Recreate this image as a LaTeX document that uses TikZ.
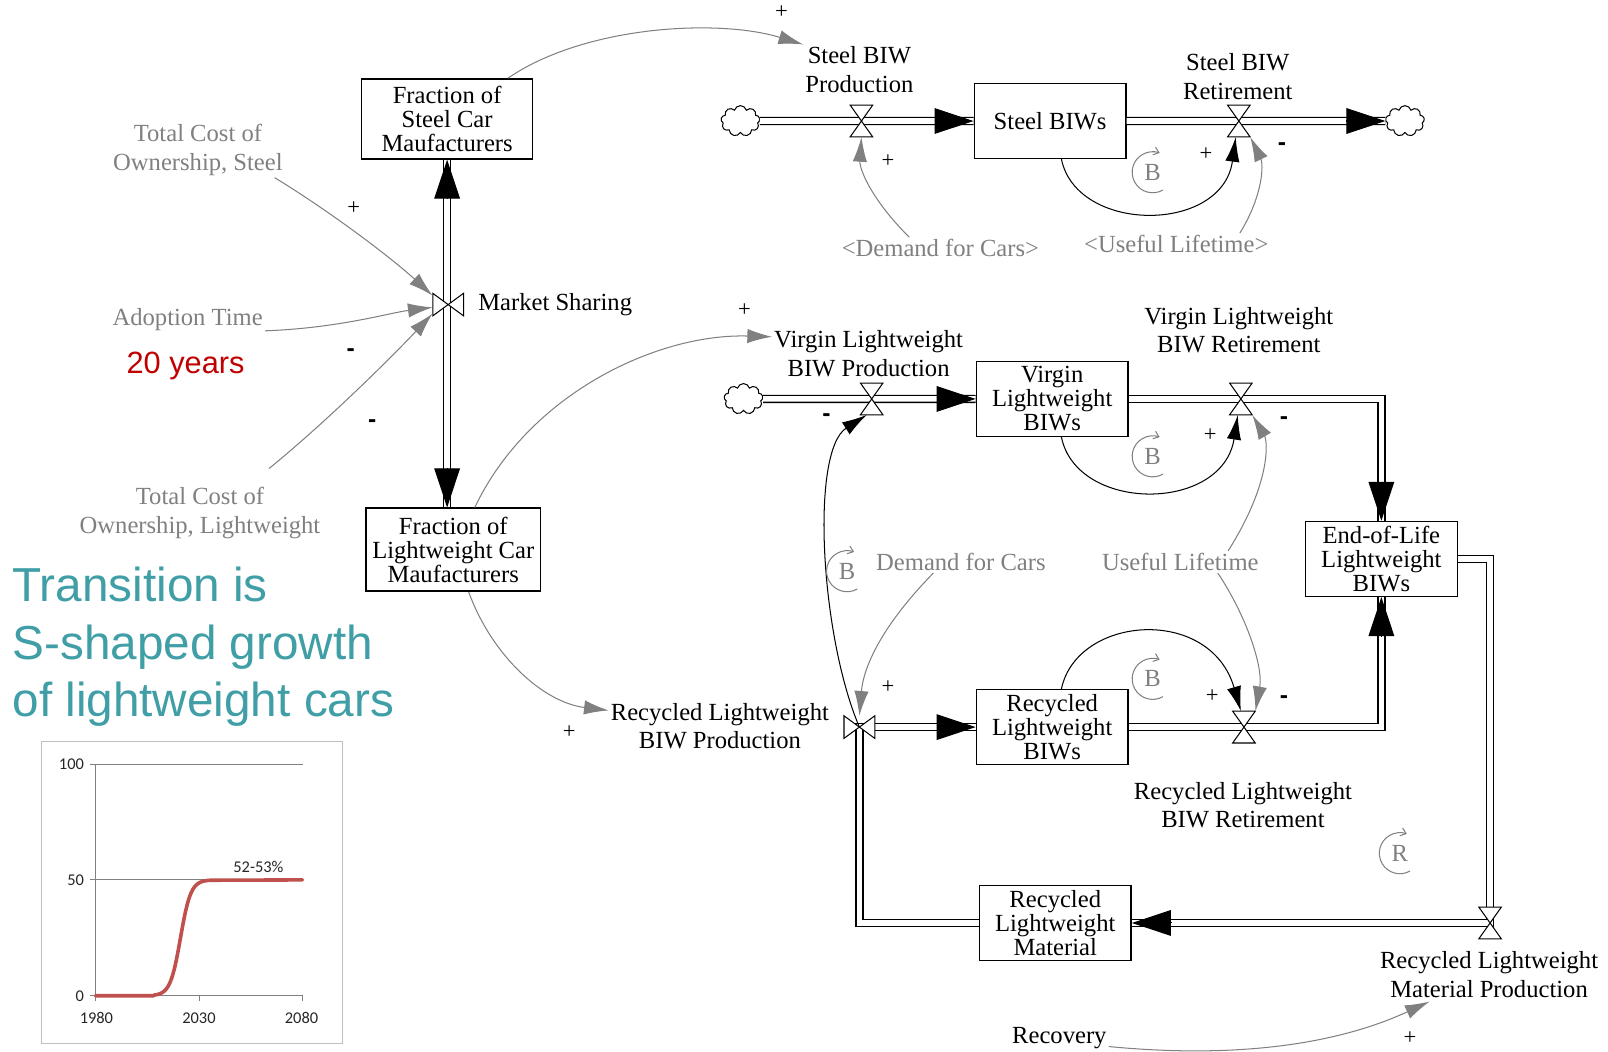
\documentclass[tikz,border=0pt]{standalone}
\usepackage{fontspec}
\setmainfont{Liberation Serif}
\newfontfamily\arialfont{Liberation Sans}
\newfontfamily\calibrifont{Carlito}
\usetikzlibrary{arrows.meta,positioning,calc,shapes.symbols}

\definecolor{linkgray}{RGB}{128,128,128}
\definecolor{slidecyan}{RGB}{64,158,166}
\definecolor{yearsred}{RGB}{192,0,0}
\definecolor{curvered}{RGB}{192,80,77}

\tikzset{
  valve/.pic={
    \draw[line width=1pt,fill=white] (-11,-15.5) -- (11,-15.5) -- (-11,15.5) -- (11,15.5) -- cycle;
    \node[inner sep=0pt,minimum width=22pt,minimum height=31pt] (-n) at (0,0) {};
  },
  sidevalve/.pic={
    \draw[line width=1pt,fill=white] (-15,-11) -- (-15,11) -- (15,-11) -- (15,11) -- cycle;
    \node[inner sep=0pt,minimum width=30pt,minimum height=22pt] (-n) at (0,0) {};
  }
}

\begin{document}
\begin{tikzpicture}[x=1pt,y=-1pt,>={Latex[length=24pt,width=14pt]},
			font=\fontsize{24}{26}\selectfont]
			\tikzstyle{stock}=[draw,line width=1.4pt,align=center,inner sep=2pt,minimum width=148pt,minimum height=73pt,font=\fontsize{24}{23.5}\selectfont]
			\tikzstyle{rate}=[align=center,inner sep=2pt,font=\fontsize{24}{28}\selectfont]
			\tikzstyle{aux}=[rate,text=linkgray]
			\tikzstyle{pipe}=[line width=1.3pt,double=white,double distance=5.5pt]
			\tikzstyle{flowhead}=[-{Triangle[length=38pt,width=25pt]},line width=1pt]
			\tikzstyle{infolink}=[->,draw=linkgray,line width=1pt]
			\tikzstyle{stocklink}=[->,draw=black,line width=1pt]
			\tikzstyle{polplus}=[inner sep=0pt,font=\fontsize{22}{22}\selectfont]
			\tikzstyle{polminus}=[inner sep=0pt,font=\arialfont\bfseries\fontsize{24}{24}\selectfont]
			\tikzstyle{loopid}=[inner sep=0pt,text=linkgray]
			\tikzstyle{loopar}=[draw=linkgray,line width=1pt,-{Straight Barb[length=5pt,width=8pt]}]
			\tikzstyle{cloudy}=[cloud,cloud puffs=9,cloud ignores aspect,draw,fill=white,line width=1pt,minimum width=38pt,minimum height=30pt,inner sep=0pt]
			\tikzstyle{chartlbl}=[inner sep=0pt,font=\calibrifont\fontsize{16}{16}\selectfont,text=black!85]
			
			\useasboundingbox (0,0) rectangle (1568,1025);
			\fill[white] (0,0) rectangle (1568,1025);
			
			% stocks
			\node[stock,minimum width=167pt,minimum height=78pt] (fsteel) at (436,116) {Fraction of\\Steel Car\\Maufacturers};
			
			\node[stock,minimum width=170pt,minimum height=81pt] (flw) at (442,536) {Fraction of\\Lightweight Car\\Maufacturers};
			
			\node[stock] (sBIW) at (1024,118) {Steel BIWs};
			
			\node[stock] (vBIW) at (1026,389) {Virgin\\Lightweight\\BIWs};
			
			\node[stock] (eol) at (1347,545) {End-of-Life\\Lightweight\\BIWs};
			
			\node[stock] (rBIW) at (1026,709) {Recycled\\Lightweight\\BIWs};
			
			\node[stock] (rMat) at (1029,900) {Recycled\\Lightweight\\Material};
			
			% sources and sinks
			\node[cloudy] (c1) at (722,118) {};
			
			\node[cloudy] (c2) at (1370,118) {};
			
			\node[cloudy] (c3) at (725,389) {};
			
			% valve places
			\coordinate (pSP) at (840,118);
			\coordinate (pSR) at (1208,118);
			\coordinate (pMS) at (437,297);
			\coordinate (pVP) at (850,389);
			\coordinate (pVR) at (1210,389);
			\coordinate (pRP) at (838,709);
			\coordinate (pRR) at (1213,709);
			\coordinate (pRM) at (1453,900);
			
			% flows
			\draw[pipe] (c1) -- (sBIW.west);
			\draw[pipe] (sBIW.east) -- (c2);
			\draw[pipe] (fsteel.south) -- (fsteel.south |- flw.north);
			\draw[pipe] (c3) -- (vBIW.west);
			\draw[pipe] (vBIW.east) -| (eol.north);
			\draw[pipe] (rBIW.east) -| (eol.south);
			\draw[pipe] (eol.east) -| (pRM) -- (rMat.east);
			\draw[pipe] (rMat.west) -| (pRP) -- (rBIW.west);
			
			\draw[flowhead] ($(sBIW.west)+(-38,0)$) -- (sBIW.west);
			\draw[flowhead] ($(c2.west)+(-38,0)$) -- (c2.west);
			\draw[flowhead] ($(fsteel.south)+(0,38)$) -- (fsteel.south);
			\draw[flowhead] ($(fsteel.south |- flw.north)+(0,-38)$) -- (fsteel.south |- flw.north);
			\draw[flowhead] ($(vBIW.west)+(-38,0)$) -- (vBIW.west);
			\draw[flowhead] ($(eol.north)+(0,-38)$) -- (eol.north);
			\draw[flowhead] ($(eol.south)+(0,38)$) -- (eol.south);
			\draw[flowhead] ($(rBIW.west)+(-38,0)$) -- (rBIW.west);
			\draw[flowhead] ($(rMat.east)+(38,0)$) -- (rMat.east);
			
			% valves
			\pic (vSP) at (pSP) {valve};
			\pic (vSR) at (pSR) {valve};
			\pic (vMS) at (pMS) {sidevalve};
			\pic (vVP) at (pVP) {valve};
			\pic (vVR) at (pVR) {valve};
			\pic (vRP) at (pRP) {sidevalve};
			\pic (vRR) at (pRR) {valve};
			\pic (vRM) at (pRM) {valve};
			
			% rate names
			\node[rate] (lSP) at (838,68) {Steel BIW\\Production};
			
			\node[rate] (lSR) at (1207,75) {Steel BIW\\Retirement};
			
			\node[rate,right=12pt of vMS-n] (lMS) {Market Sharing};
			
			\node[rate] (lVP) at (847,345) {Virgin Lightweight\\BIW Production};
			
			\node[rate] (lVR) at (1208,322) {Virgin Lightweight\\BIW Retirement};
			
			\node[rate] (lRP) at (702,708) {Recycled Lightweight\\BIW Production};
			
			\node[rate] (lRR) at (1212,785) {Recycled Lightweight\\BIW Retirement};
			
			\node[rate] (lRM) at (1452,950) {Recycled Lightweight\\Material Production};
			
			\node[rate] (recov) at (1033,1012) {Recovery};
			
			% auxiliaries
			\node[aux] (tcs) at (193,146) {Total Cost of\\Ownership, Steel};
			
			\node[aux] (adopt) at (183,312) {Adoption Time};
			
			\node[aux] (tcl) at (195,500) {Total Cost of\\Ownership, Lightweight};
			
			\node[aux] (dfc1) at (917,242) {<Demand for Cars>};
			
			\node[aux] (ul1) at (1147,238) {<Useful Lifetime>};
			
			\node[aux] (dfc2) at (937,548) {Demand for Cars};
			
			\node[aux] (ul2) at (1151,548) {Useful Lifetime};
			
			\node[text=yearsred,font=\arialfont\fontsize{30}{30}\selectfont] (adoptval) at (181,357) {20 years};
			
			% links
			\draw[infolink] ($(fsteel.north east)+(-25,0)$) .. controls (570,25) and (700,18) .. (lSP.north west);
			\draw[infolink] (tcs.-20) .. controls (320,205) and (380,250) .. (vMS-n.150);
			\draw[infolink] (adopt.-8) .. controls (330,320) and (380,305) .. (vMS-n.190);
			\draw[infolink] ($(tcl.22)+(0,-16)$) .. controls (320,410) and (385,345) .. (vMS-n.210);
			\draw[infolink] ($(flw.north)+(21,0)$) .. controls (515,385) and (640,325) .. (lVP.170);
			\draw[infolink] ($(flw.south)+(15,0)$) .. controls (480,640) and (530,685) .. (lRP.172);
			\draw[infolink] ($(dfc1.north west)+(68,0)$) .. controls (850,195) and (838,165) .. (vSP-n.south);
			\draw[infolink] ($(ul1.north east)+(-30,0)$) .. controls (1232,190) and (1232,160) .. (vSR-n.south east);
			\draw[stocklink] ($(sBIW.south)+(11,0)$) .. controls (1050,228) and (1192,228) .. ($(vSR-n.south)+(-3,0)$);
			\draw[stocklink] ($(vBIW.south)+(9,0)$) .. controls (1050,500) and (1192,500) .. ($(vVR-n.south)+(-3,0)$);
			\draw[infolink] ($(ul2.north east)+(-32,0)$) .. controls (1240,470) and (1236,430) .. (vVR-n.south east);
			\draw[infolink] ($(dfc2.south west)+(58,0)$) .. controls (860,610) and (842,650) .. (vRP-n.north);
			\draw[stocklink] (vRP-n.center) .. controls (800,620) and (790,440) .. ($(vVP-n.south)+(-5,0)$);
			\draw[stocklink] ($(rBIW.north)+(9,0)$) .. controls (1050,600) and (1180,590) .. ($(vRR-n.north)+(-3,0)$);
			\draw[infolink] ($(ul2.south east)+(-42,0)$) .. controls (1215,600) and (1232,650) .. (vRR-n.north east);
			\draw[infolink] (recov.-10) .. controls (1200,1032) and (1300,1020) .. ($(lRM.south)+(-58,2)$);
			
			% polarities
			\node[polplus] (p1) at (762,12) {+};
			\node[polplus] (p2) at (345,203) {+};
			\node[polplus] (p3) at (726,302) {+};
			\node[polplus] (p4) at (555,714) {+};
			\node[polplus] (p5) at (866,157) {+};
			\node[polplus] (p6) at (1176,150) {+};
			\node[polplus] (p7) at (1180,424) {+};
			\node[polplus] (p8) at (866,670) {+};
			\node[polplus] (p9) at (1182,679) {+};
			\node[polplus] (p10) at (1375,1012) {+};
			\node[polminus] (m1) at (342,344) {-};
			\node[polminus] (m2) at (363,413) {-};
			\node[polminus] (m3) at (1250,143) {-};
			\node[polminus] (m4) at (1252,410) {-};
			\node[polminus] (m5) at (806,407) {-};
			\node[polminus] (m6) at (1252,682) {-};
			
			% loops
			\node[loopid] (lb1) at (1124,168) {B};
			\draw[loopar] ($(lb1)+(10,17.3)$) arc[start angle=60,end angle=290,radius=20];
			\node[loopid] (lb2) at (1124,445) {B};
			\draw[loopar] ($(lb2)+(10,17.3)$) arc[start angle=60,end angle=290,radius=20];
			\node[loopid] (lb3) at (826,557) {B};
			\draw[loopar] ($(lb3)+(10,17.3)$) arc[start angle=60,end angle=290,radius=20];
			\node[loopid] (lb4) at (1124,662) {B};
			\draw[loopar] ($(lb4)+(10,17.3)$) arc[start angle=60,end angle=290,radius=20];
			\node[loopid] (lr) at (1365,832) {R};
			\draw[loopar] ($(lr)+(10,17.3)$) arc[start angle=60,end angle=290,radius=20];
			
			% slide text
			\node[anchor=north west,inner sep=0pt,align=left,text=slidecyan,font=\arialfont\fontsize{46.5}{56}\selectfont] (trans) at (12,553) {Transition is\\S-shaped growth\\of lightweight cars};
			
			% chart
			\draw[black!25,line width=1pt,fill=white] (40,723) rectangle (334,1018);
			\draw[black!50,line width=0.8pt] (93,745) -- (295,745) (93,858) -- (295,858);
			\draw[black!50,line width=0.8pt] (93,745) -- (93,971) -- (295,971);
			\foreach \tx in {93,194,295} \draw[black!50,line width=0.8pt] (\tx,971) -- (\tx,976);
			\foreach \ty in {745,858,971} \draw[black!50,line width=0.8pt] (88,\ty) -- (93,\ty);
			\node[chartlbl,anchor=east] (y100) at (82,745) {100};
			\node[chartlbl,anchor=east] (y50) at (82,858) {50};
			\node[chartlbl,anchor=east] (y0) at (82,971) {0};
			\node[chartlbl] (x1980) at (94,993) {1980};
			\node[chartlbl] (x2030) at (194,993) {2030};
			\node[chartlbl] (x2080) at (294,993) {2080};
			\node[chartlbl] (share) at (252,845) {52-53\%};
			\draw[curvered,line width=3.5pt,line cap=round,line join=round] (93,971) -- (150,971) -- plot[domain=150:205,samples=40] (\x,{971-113/(1+exp(-(\x-176)/5))}) -- (295,858);
			\end{tikzpicture}
\end{document}
